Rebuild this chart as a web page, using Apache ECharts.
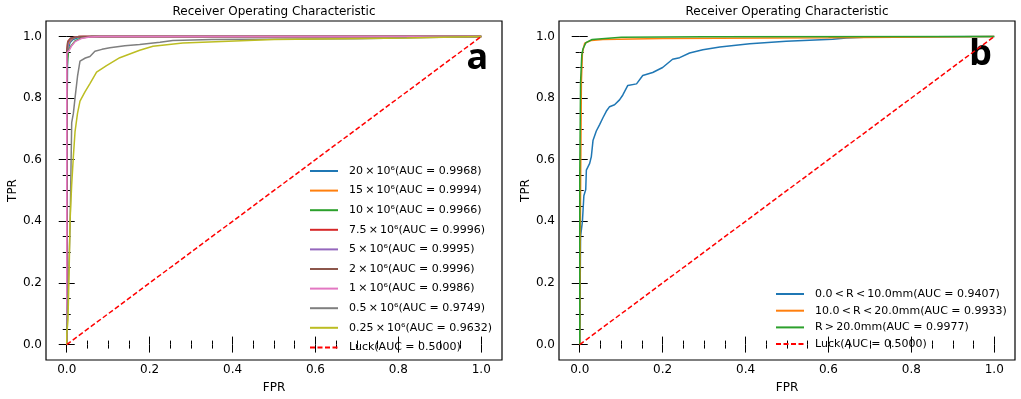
<!DOCTYPE html>
<html><head><meta charset="utf-8">
<script src="https://cdn.jsdelivr.net/npm/echarts@6/dist/echarts.min.js"></script>
<style>html,body{margin:0;padding:0;background:#fff}#c{width:1021px;height:399px}</style>
</head><body><div id="c"></div>
<script>
// ---------- data ----------
const chartTitle = 'Receiver Operating Characteristic';
const majorTicks = [0, 0.2, 0.4, 0.6, 0.8, 1.0];
const minorTicks = [0.05, 0.1, 0.15, 0.25, 0.3, 0.35, 0.45, 0.5, 0.55, 0.65, 0.7, 0.75, 0.85, 0.9, 0.95];

const namesA = [
  '20\u2009×\u200910⁶(AUC = 0.9968)', '15\u2009×\u200910⁶(AUC = 0.9994)', '10\u2009×\u200910⁶(AUC = 0.9966)',
  '7.5\u2009×\u200910⁶(AUC = 0.9996)', '5\u2009×\u200910⁶(AUC = 0.9995)', '2\u2009×\u200910⁶(AUC = 0.9996)',
  '1\u2009×\u200910⁶(AUC = 0.9986)', '0.5\u2009×\u200910⁶(AUC = 0.9749)', '0.25\u2009×\u200910⁶(AUC = 0.9632)',
  'Luck(AUC = 0.5000)'
];
const rocA_20  = [[0,0],[0,0.6],[0.002,0.93],[0.004,0.96],[0.008,0.98],[0.015,0.99],[0.03,0.997],[0.06,1],[1,1]];
const rocA_15  = [[0,0],[0,0.9],[0.003,0.97],[0.008,0.985],[0.015,0.995],[0.03,1],[1,1]];
const rocA_10  = [[0,0],[0,0.08],[0.001,0.9],[0.004,0.955],[0.01,0.968],[0.02,0.985],[0.035,0.995],[0.06,1],[1,1]];
const rocA_7_5 = [[0,0],[0,0.95],[0.003,0.985],[0.01,0.995],[0.03,1],[1,1]];
const rocA_5   = [[0,0],[0,0.94],[0.004,0.98],[0.012,0.995],[0.03,1],[1,1]];
const rocA_2   = [[0,0],[0,0.95],[0.002,0.98],[0.008,0.993],[0.02,0.998],[0.04,1],[1,1]];
const rocA_1   = [[0,0],[0,0.945],[0.006,0.955],[0.012,0.97],[0.02,0.983],[0.035,0.993],[0.055,0.998],[0.08,1],[1,1]];
const rocA_0_5 = [[0,0],[0,0.05],[0.004,0.2],[0.006,0.29],[0.008,0.38],[0.01,0.55],[0.012,0.72],[0.016,0.75],[0.02,0.8],[0.026,0.87],[0.032,0.92],[0.045,0.93],[0.056,0.935],[0.068,0.952],[0.085,0.958],[0.104,0.963],[0.14,0.97],[0.176,0.974],[0.225,0.981],[0.256,0.987],[0.35,0.99],[0.7,0.992],[1,1]];
const rocA_0_25 = [[0,0],[0,0.03],[0.003,0.08],[0.006,0.25],[0.008,0.4],[0.012,0.52],[0.016,0.61],[0.02,0.69],[0.026,0.75],[0.032,0.79],[0.044,0.82],[0.056,0.847],[0.072,0.884],[0.096,0.905],[0.128,0.931],[0.176,0.955],[0.208,0.968],[0.28,0.979],[0.5,0.99],[0.82,0.995],[1,1]];
const rocLuck = [[0,0],[1,1]];

const namesB = [
  '0.0\u2009<\u2009R\u2009<\u200910.0mm(AUC = 0.9407)', '10.0\u2009<\u2009R\u2009<\u200920.0mm(AUC = 0.9933)',
  'R\u2009>\u200920.0mm(AUC = 0.9977)', 'Luck(AUC = 0.5000)'
];
const rocB_0_10 = [[0,0],[0.002,0.35],[0.004,0.345],[0.0065,0.40],[0.01,0.483],[0.0145,0.503],[0.016,0.566],[0.024,0.588],[0.028,0.61],[0.032,0.662],[0.04,0.693],[0.048,0.714],[0.056,0.736],[0.064,0.757],[0.072,0.772],[0.084,0.778],[0.096,0.794],[0.104,0.81],[0.116,0.841],[0.137,0.846],[0.152,0.873],[0.176,0.883],[0.2,0.899],[0.224,0.926],[0.241,0.931],[0.265,0.946],[0.297,0.957],[0.338,0.966],[0.41,0.976],[0.498,0.984],[0.61,0.991],[0.643,0.995],[0.7,0.998],[1,1]];
const rocB_10_20 = [[0,0],[0.002,0.5],[0.004,0.85],[0.0065,0.947],[0.012,0.978],[0.028,0.987],[0.056,0.99],[0.2,0.993],[0.6,0.996],[1,1]];
const rocB_20 = [[0,0],[0,0.54],[0.002,0.85],[0.005,0.94],[0.008,0.96],[0.015,0.98],[0.03,0.99],[0.1,0.997],[0.3,0.999],[1,1]];

// ---------- chart ----------
const curvesA = [rocA_20, rocA_15, rocA_10, rocA_7_5, rocA_5, rocA_2, rocA_1, rocA_0_5, rocA_0_25, rocLuck];
const colorsA = ['#1f77b4','#ff7f0e','#2ca02c','#d62728','#9467bd','#8c564b','#e377c2','#7f7f7f','#bcbd22','#ff0000'];
const curvesB = [rocB_0_10, rocB_10_20, rocB_20, rocLuck];
const colorsB = ['#1f77b4','#ff7f0e','#2ca02c','#ff0000'];

const FONT = 'DejaVu Sans';
const grids = [
  {left: 46, top: 21, width: 456, height: 346, show: true, borderColor: '#000', borderWidth: 1.2, backgroundColor: 'transparent'},
  {left: 559, top: 21, width: 456, height: 346, show: true, borderColor: '#000', borderWidth: 1.2, backgroundColor: 'transparent'}
];
const xAxes = [], yAxes = [];
function mkAxis(kind, gi, pos, ticks, len, labels, name) {
  const a = {
    type: 'value', min: -0.05, max: 1.05, position: pos, offset: 0,
    axisLine: {show: false}, splitLine: {show: false},
    axisTick: {show: true, inside: true, length: len, customValues: ticks, lineStyle: {color: '#000', width: 1}},
    axisLabel: {show: labels, customValues: majorTicks, formatter: v => v.toFixed(1), color: '#000', fontFamily: FONT, fontSize: 12, margin: 4}
  };
  if (name) {
    a.name = name; a.nameLocation = 'middle';
    a.nameGap = kind === 'x' ? 22 : 27;
    a.nameTextStyle = {color: '#000', fontFamily: FONT, fontSize: 12};
  }
  a.gridIndex = gi;
  if (kind === 'x') { xAxes.push(a); return xAxes.length - 1; }
  yAxes.push(a); return yAxes.length - 1;
}
const mainX = [], mainY = [];
for (let g = 0; g < 2; g++) {
  mainX.push(mkAxis('x', g, 'bottom', majorTicks, 8, true, 'FPR'));
  mkAxis('x', g, 'bottom', minorTicks, 4, false);
  mkAxis('x', g, 'top', majorTicks, 8, false);
  mkAxis('x', g, 'top', minorTicks, 4, false);
  mainY.push(mkAxis('y', g, 'left', majorTicks, 8, true, 'TPR'));
  mkAxis('y', g, 'left', minorTicks, 4, false);
  mkAxis('y', g, 'right', majorTicks, 8, false);
  mkAxis('y', g, 'right', minorTicks, 4, false);
}

const series = [];
function addSeries(names, curves, colors, g) {
  names.forEach((n, i) => {
    const luck = i === names.length - 1;
    series.push({
      type: 'line', name: n, data: curves[i], xAxisIndex: mainX[g], yAxisIndex: mainY[g],
      symbol: 'none', showSymbol: false, animation: false, silent: true,
      lineStyle: {color: colors[i], width: 1.5, type: luck ? [5, 2.5] : 'solid'},
      itemStyle: {color: colors[i]}, z: 2 + i
    });
  });
}
addSeries(namesA, curvesA, colorsA, 0);
addSeries(namesB, curvesB, colorsB, 1);

const legendText = {color: '#000', fontFamily: FONT, fontSize: 11, lineHeight: 14, padding: [0, 0, 0, 6]};
const hideSym = {color: 'transparent', borderColor: 'transparent', borderWidth: 0, opacity: 0};
const option = {
  backgroundColor: '#fff',
  animation: false,
  title: [
    {text: chartTitle, left: 274, top: 6, textAlign: 'center', padding: 0, textStyle: {fontFamily: FONT, fontSize: 12, fontWeight: 'normal', color: '#000'}},
    {text: chartTitle, left: 787, top: 6, textAlign: 'center', padding: 0, textStyle: {fontFamily: FONT, fontSize: 12, fontWeight: 'normal', color: '#000'}}
  ],
  grid: grids,
  xAxis: xAxes,
  yAxis: yAxes,
  legend: [
    {data: namesA, orient: 'vertical', left: 309, top: 164, padding: 0, itemWidth: 28, itemHeight: 14, itemGap: 5.6, textStyle: legendText, selectedMode: false, itemStyle: hideSym},
    {data: namesB, orient: 'vertical', left: 775, top: 287, padding: 0, itemWidth: 28, itemHeight: 14, itemGap: 2.7, textStyle: legendText, selectedMode: false, itemStyle: hideSym}
  ],
  graphic: [
    {type: 'text', right: 1021 - 488, top: 41, style: {text: 'a', font: 'bold 36px "Noto Sans"', fill: '#000'}},
    {type: 'text', right: 1021 - 992, top: 37, style: {text: 'b', font: 'bold 36px "Noto Sans"', fill: '#000'}}
  ],
  series: series
};
const chart = echarts.init(document.getElementById('c'), null, {renderer: 'canvas'});
chart.setOption(option);
</script></body></html>
